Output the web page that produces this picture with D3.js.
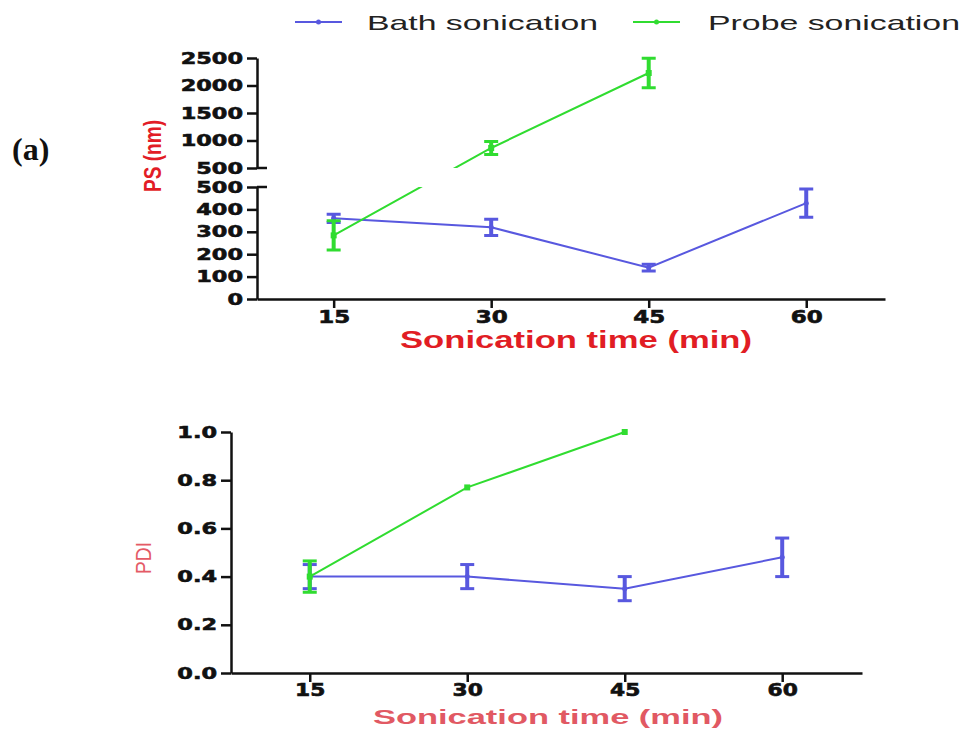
<!DOCTYPE html>
<meta charset="utf-8">
<html>
<head>
<style>
  body { margin: 0; background: #fff; }
  svg { display: block; }
  .axis path, .axis line { stroke: #111; stroke-width: 2.5; }
  .axis text { font-family: "DejaVu Sans", sans-serif; font-weight: bold; fill: #111; stroke: #111; stroke-width: 0.6; }
</style>
</head>
<script src="https://d3js.org/d3.v7.min.js"></script>
<body>
<div id="vis"></div>
<script>
  // sonication time (min)
  var times = [15, 30, 45, 60];
  var xTicks = [15, 30, 45, 60];
  var psTicksLow = [0, 100, 200, 300, 400, 500];
  var psTicksHigh = [500, 1000, 1500, 2000, 2500];
  var pdiTicks = [0, 0.2, 0.4, 0.6, 0.8, 1.0];

  // particle size (nm), mean and error
  var bathPS = [360, 320, 140, 428];
  var bathPSErr = [18, 36, 15, 63];
  var probePS = [284, 864, 2227];
  var probePSErr = [65, 120, 270];

  // PDI, mean and error
  var bathPDI = [0.40, 0.40, 0.35, 0.48];
  var bathPDIErr = [0.05, 0.05, 0.05, 0.08];
  var probePDI = [0.40, 0.77, 1.00];
  var probePDIErr = [0.065, 0, 0];

  var seriesNames = ["Bath sonication", "Probe sonication"];
  var blue = "#5858df", green = "#30dc30";

  var width = 965, height = 729;

  var svg = d3.select("#vis").append("svg")
    .attr("width", width)
    .attr("height", height);

  // ---------- top panel : PS with broken y axis ----------
  var xTop = d3.scaleLinear().domain([7.7, 67.5]).range([257, 885]);
  var yLow = d3.scaleLinear().domain([0, 500]).range([299, 187]);
  var yHigh = d3.scaleLinear().domain([500, 2500]).range([168, 58]);
  function yPS(v) { return v <= 500 ? yLow(v) : yHigh(v); }

  // ---------- bottom panel : PDI ----------
  var xBot = d3.scaleLinear().domain([7.5, 67.6]).range([231, 862]);
  var yPDI = d3.scaleLinear().domain([0, 1]).range([673, 432]);

  function styleYTicks(g) {
    g.selectAll("text")
      .style("font-size", "16px")
      .attr("x", -14 / 1.4)
      .attr("transform", "scale(1.4,1)");
  }
  function styleXTicks(g, size) {
    g.selectAll("text")
      .style("font-size", size + "px")
      .attr("transform", "scale(1.28,1)");
  }

  // top axes
  svg.append("g").attr("class", "axis")
    .attr("transform", "translate(0," + yLow(0) + ")")
    .call(d3.axisBottom(xTop).tickValues(xTicks).tickSizeInner(9).tickSizeOuter(0).tickPadding(2).tickFormat(d3.format("d")))
    .call(function(g) { styleXTicks(g, 18); });

  svg.append("g").attr("class", "axis")
    .attr("transform", "translate(" + xTop.range()[0] + ",0)")
    .call(d3.axisLeft(yLow).tickValues(psTicksLow).tickSizeInner(10).tickSizeOuter(0).tickFormat(d3.format("d")))
    .call(styleYTicks);

  svg.append("g").attr("class", "axis")
    .attr("transform", "translate(" + xTop.range()[0] + ",0)")
    .call(d3.axisLeft(yHigh).tickValues(psTicksHigh).tickSizeInner(10).tickSizeOuter(0).tickFormat(d3.format("d")))
    .call(styleYTicks);

  // break stubs on the right side of the axis
  [yLow(500), yHigh(500)].forEach(function(yy) {
    svg.append("line")
      .attr("x1", xTop.range()[0]).attr("x2", xTop.range()[0] + 10)
      .attr("y1", yy).attr("y2", yy)
      .attr("stroke", "#111").attr("stroke-width", 2.5);
  });

  // clip: union of the two y segments
  var clip = svg.append("clipPath").attr("id", "psClip");
  clip.append("rect").attr("x", 0).attr("y", 0).attr("width", width).attr("height", yHigh(500));
  clip.append("rect").attr("x", 0).attr("y", yLow(500)).attr("width", width).attr("height", 130);

  // bottom axes
  svg.append("g").attr("class", "axis")
    .attr("transform", "translate(0," + yPDI(0) + ")")
    .call(d3.axisBottom(xBot).tickValues(xTicks).tickSizeInner(9).tickSizeOuter(0).tickPadding(2).tickFormat(d3.format("d")))
    .call(function(g) { styleXTicks(g, 17); });

  svg.append("g").attr("class", "axis")
    .attr("transform", "translate(" + xBot.range()[0] + ",0)")
    .call(d3.axisLeft(yPDI).tickValues(pdiTicks).tickSizeInner(10).tickSizeOuter(0).tickFormat(d3.format(".1f")))
    .call(styleYTicks);

  // draws one series: line, error bars, markers
  function drawSeries(g, xs, yf, means, errs, color, marker) {
    var pts = means.map(function(m, i) { return { t: times[i], v: m, e: errs[i] }; });

    var line = d3.line()
      .x(function(d) { return xs(d.t); })
      .y(function(d) { return yf(d.v); });

    g.append("path")
      .datum(pts)
      .attr("d", line)
      .attr("fill", "none")
      .attr("stroke", color)
      .attr("stroke-width", 2);

    var eb = g.selectAll(".eb").data(pts.filter(function(d) { return d.e > 0; }))
      .enter().append("g");
    eb.append("line")
      .attr("x1", function(d) { return xs(d.t); })
      .attr("x2", function(d) { return xs(d.t); })
      .attr("y1", function(d) { return yf(d.v - d.e); })
      .attr("y2", function(d) { return yf(d.v + d.e); })
      .attr("stroke", color).attr("stroke-width", 4);
    [-1, 1].forEach(function(s) {
      eb.append("line")
        .attr("x1", function(d) { return xs(d.t) - 7; })
        .attr("x2", function(d) { return xs(d.t) + 7; })
        .attr("y1", function(d) { return yf(d.v + s * d.e); })
        .attr("y2", function(d) { return yf(d.v + s * d.e); })
        .attr("stroke", color).attr("stroke-width", 3);
    });

    if (marker === "square") {
      g.selectAll(".mk").data(pts).enter().append("rect")
        .attr("x", function(d) { return xs(d.t) - 3; })
        .attr("y", function(d) { return yf(d.v) - 3; })
        .attr("width", 6).attr("height", 6)
        .attr("fill", color);
    } else {
      g.selectAll(".mk").data(pts).enter().append("circle")
        .attr("cx", function(d) { return xs(d.t); })
        .attr("cy", function(d) { return yf(d.v); })
        .attr("r", 2.5)
        .attr("fill", color);
    }
  }

  var topG = svg.append("g").attr("clip-path", "url(#psClip)");
  drawSeries(topG, xTop, yPS, bathPS, bathPSErr, blue, "circle");
  drawSeries(topG, xTop, yPS, probePS, probePSErr, green, "square");

  var botG = svg.append("g");
  drawSeries(botG, xBot, yPDI, bathPDI, bathPDIErr, blue, "circle");
  drawSeries(botG, xBot, yPDI, probePDI, probePDIErr, green, "square");

  // axis titles
  svg.append("text")
    .attr("x", 400).attr("y", 348)
    .attr("textLength", 352).attr("lengthAdjust", "spacingAndGlyphs")
    .style("font-family", "Liberation Sans, Arial, sans-serif")
    .style("font-weight", "bold").style("font-size", "23px")
    .style("fill", "#e11d24")
    .text("Sonication time (min)");

  svg.append("text")
    .attr("x", 373).attr("y", 724)
    .attr("textLength", 350).attr("lengthAdjust", "spacingAndGlyphs")
    .style("font-family", "Liberation Sans, Arial, sans-serif")
    .style("font-weight", "bold").style("font-size", "21px")
    .style("fill", "#e15963")
    .text("Sonication time (min)");

  svg.append("text")
    .attr("transform", "translate(161,156) rotate(-90)")
    .attr("textLength", 72).attr("lengthAdjust", "spacingAndGlyphs")
    .style("text-anchor", "middle")
    .style("font-family", "Liberation Sans, Arial, sans-serif")
    .style("font-weight", "bold").style("font-size", "24px")
    .style("fill", "#e21c26")
    .text("PS (nm)");

  svg.append("text")
    .attr("transform", "translate(151,558) rotate(-90)")
    .attr("textLength", 32).attr("lengthAdjust", "spacingAndGlyphs")
    .style("text-anchor", "middle")
    .style("font-family", "Liberation Sans, Arial, sans-serif")
    .style("font-size", "22px")
    .style("fill", "#e45a66")
    .text("PDI");

  // panel label
  svg.append("text")
    .attr("x", 12).attr("y", 160)
    .style("font-family", "Liberation Serif, 'Times New Roman', serif")
    .style("font-weight", "bold").style("font-size", "32px")
    .style("fill", "#111")
    .text("(a)");

  // legend
  var legend = [
    { name: seriesNames[0], color: blue, x1: 295, x2: 342, tx: 367, tl: 231 },
    { name: seriesNames[1], color: green, x1: 633, x2: 680, tx: 708, tl: 252 }
  ];
  legend.forEach(function(d) {
    svg.append("line")
      .attr("x1", d.x1).attr("x2", d.x2).attr("y1", 22).attr("y2", 22)
      .attr("stroke", d.color).attr("stroke-width", 2);
    svg.append("circle")
      .attr("cx", (d.x1 + d.x2) / 2).attr("cy", 22).attr("r", 2.5)
      .attr("fill", d.color);
    svg.append("text")
      .attr("x", d.tx).attr("y", 30)
      .attr("textLength", d.tl).attr("lengthAdjust", "spacingAndGlyphs")
      .style("font-family", "Liberation Sans, Arial, sans-serif")
      .style("font-size", "21px")
      .style("fill", "#222")
      .text(d.name);
  });
</script>
</body>
</html>
